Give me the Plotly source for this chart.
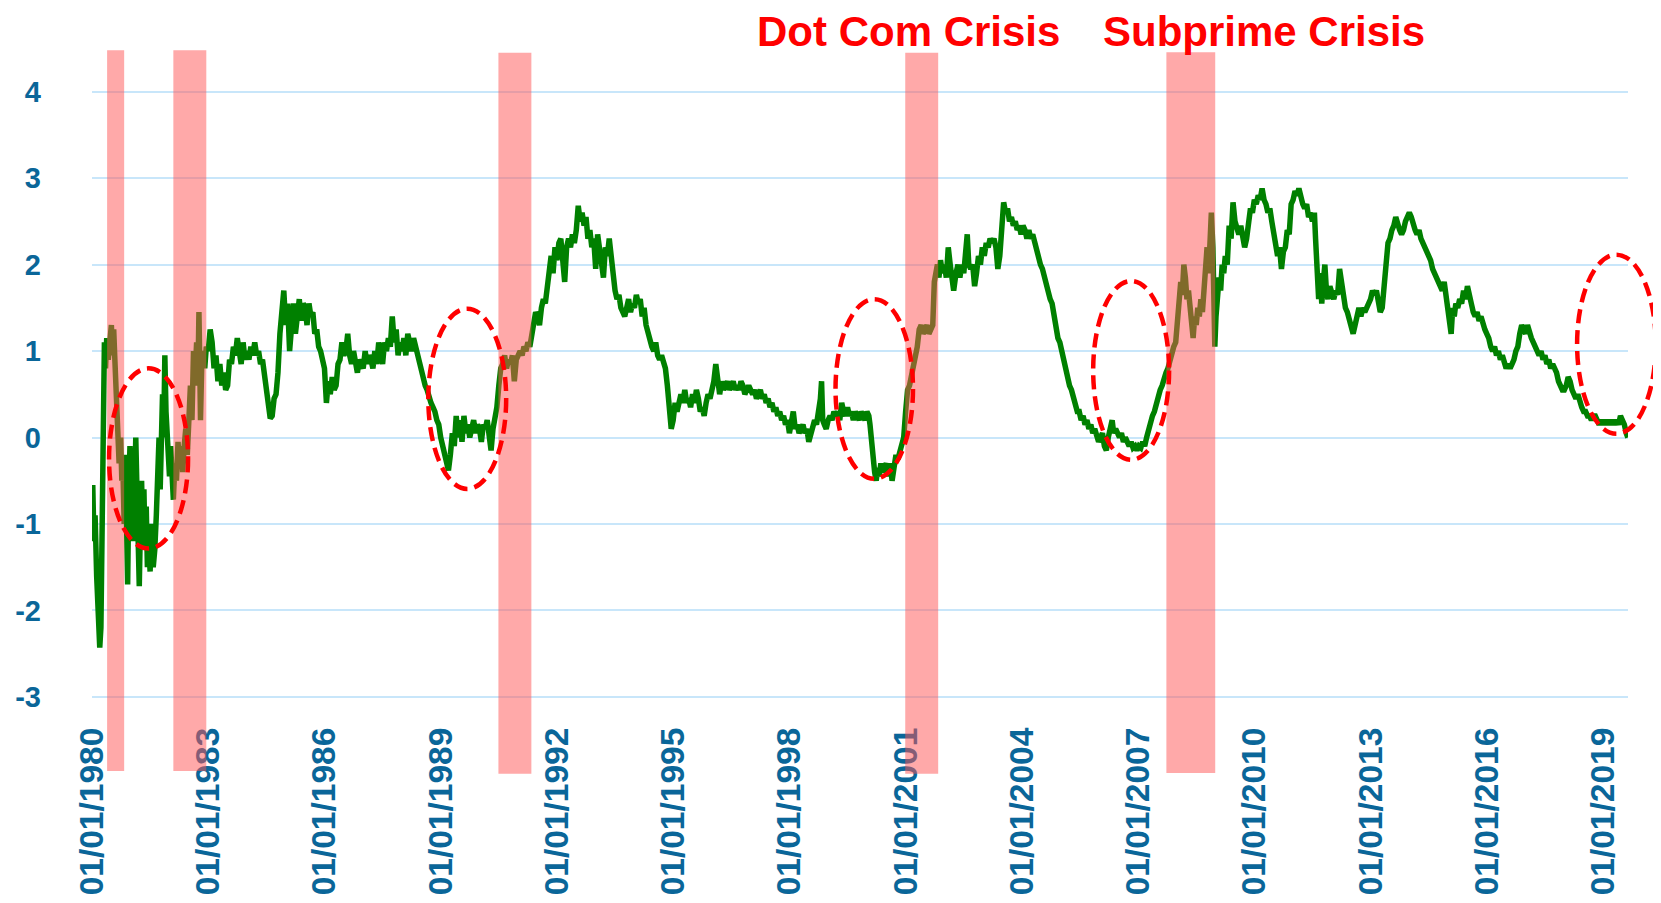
import pandas as pd
import plotly.graph_objects as go

# ---- data: 10y-2y spread, decimal years ----
years = [
1980.00,1980.02,1980.05,1980.08,1980.12,1980.16,1980.20,1980.23,1980.26,1980.29,1980.32,1980.35,1980.38,1980.42,1980.46,1980.50,1980.53,1980.56,1980.59,1980.62,
1980.66,1980.70,1980.74,1980.77,1980.80,1980.83,1980.86,1980.89,1980.92,1980.95,1980.98,1981.01,1981.04,1981.07,1981.10,1981.13,1981.16,1981.19,1981.22,1981.25,
1981.28,1981.31,1981.34,1981.37,1981.40,1981.43,1981.46,1981.50,1981.54,1981.58,1981.62,1981.66,1981.70,1981.73,1981.76,1981.79,1981.82,1981.85,1981.88,1981.91,
1981.94,1981.97,1982.00,1982.03,1982.06,1982.10,1982.14,1982.18,1982.22,1982.26,1982.30,1982.34,1982.38,1982.42,1982.46,1982.50,1982.54,1982.58,1982.62,1982.66,
1982.70,1982.73,1982.76,1982.78,1982.80,1982.83,1982.87,1982.91,1982.95,1983.00,1983.05,1983.10,1983.15,1983.20,1983.25,1983.30,1983.35,1983.40,1983.45,1983.50,
1983.55,1983.60,1983.65,1983.70,1983.75,1983.80,1983.85,1983.90,1983.95,1984.00,1984.05,1984.10,1984.15,1984.20,1984.25,1984.30,1984.35,1984.40,1984.45,1984.50,
1984.55,1984.60,1984.65,1984.70,1984.75,1984.80,1984.85,1984.90,1984.95,1985.00,1985.05,1985.10,1985.15,1985.20,1985.25,1985.30,1985.35,1985.40,1985.45,1985.50,
1985.55,1985.60,1985.65,1985.70,1985.75,1985.80,1985.85,1985.90,1985.95,1986.00,1986.05,1986.10,1986.15,1986.20,1986.25,1986.30,1986.35,1986.40,1986.45,1986.50,
1986.55,1986.60,1986.65,1986.70,1986.75,1986.80,1986.85,1986.90,1986.95,1987.00,1987.05,1987.10,1987.15,1987.20,1987.25,1987.30,1987.35,1987.40,1987.45,1987.50,
1987.55,1987.60,1987.65,1987.70,1987.75,1987.80,1987.85,1987.90,1987.95,1988.00,1988.05,1988.10,1988.15,1988.20,1988.25,1988.30,1988.35,1988.40,1988.45,1988.50,
1988.55,1988.60,1988.65,1988.70,1988.75,1988.80,1988.85,1988.90,1988.95,1989.00,1989.05,1989.10,1989.15,1989.20,1989.25,1989.30,1989.35,1989.40,1989.45,1989.50,
1989.55,1989.60,1989.65,1989.70,1989.75,1989.80,1989.85,1989.90,1989.95,1990.00,1990.05,1990.10,1990.15,1990.20,1990.25,1990.30,1990.35,1990.40,1990.45,1990.50,
1990.55,1990.60,1990.65,1990.70,1990.75,1990.80,1990.85,1990.90,1990.95,1991.00,1991.05,1991.10,1991.15,1991.20,1991.25,1991.30,1991.35,1991.40,1991.45,1991.50,
1991.55,1991.60,1991.65,1991.70,1991.75,1991.80,1991.85,1991.90,1991.95,1992.00,1992.05,1992.10,1992.15,1992.20,1992.25,1992.30,1992.35,1992.40,1992.45,1992.50,
1992.55,1992.60,1992.65,1992.70,1992.75,1992.80,1992.85,1992.90,1992.95,1993.00,1993.05,1993.10,1993.15,1993.20,1993.25,1993.30,1993.35,1993.40,1993.45,1993.50,
1993.55,1993.60,1993.65,1993.70,1993.75,1993.80,1993.85,1993.90,1993.95,1994.00,1994.05,1994.10,1994.15,1994.20,1994.25,1994.30,1994.35,1994.40,1994.45,1994.50,
1994.55,1994.60,1994.65,1994.70,1994.75,1994.80,1994.85,1994.90,1994.95,1995.00,1995.05,1995.10,1995.15,1995.20,1995.25,1995.30,1995.35,1995.40,1995.45,1995.50,
1995.55,1995.60,1995.65,1995.70,1995.75,1995.80,1995.85,1995.90,1995.95,1996.00,1996.05,1996.10,1996.15,1996.20,1996.25,1996.30,1996.35,1996.40,1996.45,1996.50,
1996.55,1996.60,1996.65,1996.70,1996.75,1996.80,1996.85,1996.90,1996.95,1997.00,1997.05,1997.10,1997.15,1997.20,1997.25,1997.30,1997.35,1997.40,1997.45,1997.50,
1997.55,1997.60,1997.65,1997.70,1997.75,1997.80,1997.85,1997.90,1997.95,1998.00,1998.05,1998.10,1998.15,1998.20,1998.25,1998.30,1998.35,1998.40,1998.45,1998.50,
1998.55,1998.60,1998.65,1998.70,1998.75,1998.80,1998.83,1998.86,1998.90,1998.95,1999.00,1999.05,1999.10,1999.15,1999.20,1999.25,1999.30,1999.35,1999.40,1999.45,
1999.50,1999.55,1999.60,1999.65,1999.70,1999.75,1999.80,1999.85,1999.90,1999.95,2000.00,2000.05,2000.08,2000.12,2000.16,2000.20,2000.24,2000.28,2000.32,2000.36,
2000.40,2000.45,2000.50,2000.55,2000.60,2000.65,2000.70,2000.75,2000.80,2000.85,2000.90,2000.95,2001.00,2001.05,2001.10,2001.15,2001.20,2001.25,2001.30,2001.35,
2001.40,2001.45,2001.50,2001.55,2001.60,2001.65,2001.70,2001.74,2001.78,2001.82,2001.86,2001.90,2001.95,2002.00,2002.05,2002.10,2002.15,2002.20,2002.24,2002.30,
2002.35,2002.40,2002.45,2002.50,2002.55,2002.59,2002.63,2002.68,2002.73,2002.78,2002.83,2002.88,2002.93,2002.98,2003.03,2003.08,2003.13,2003.18,2003.23,2003.28,
2003.33,2003.38,2003.43,2003.48,2003.53,2003.58,2003.63,2003.68,2003.73,2003.78,2003.83,2003.88,2003.93,2003.98,2004.03,2004.08,2004.13,2004.18,2004.23,2004.28,
2004.33,2004.38,2004.43,2004.48,2004.53,2004.58,2004.63,2004.68,2004.73,2004.78,2004.83,2004.88,2004.93,2004.98,2005.03,2005.08,2005.13,2005.18,2005.23,2005.28,
2005.33,2005.38,2005.43,2005.48,2005.53,2005.58,2005.63,2005.68,2005.73,2005.78,2005.83,2005.88,2005.93,2005.98,2006.03,2006.08,2006.13,2006.18,2006.23,2006.28,
2006.33,2006.37,2006.42,2006.47,2006.52,2006.57,2006.62,2006.67,2006.72,2006.77,2006.82,2006.87,2006.92,2006.97,2007.02,2007.07,2007.12,2007.17,2007.22,2007.27,
2007.32,2007.37,2007.42,2007.47,2007.52,2007.57,2007.62,2007.67,2007.72,2007.77,2007.82,2007.87,2007.92,2007.97,2008.02,2008.06,2008.10,2008.14,2008.18,2008.22,
2008.26,2008.30,2008.34,2008.38,2008.42,2008.46,2008.50,2008.54,2008.58,2008.62,2008.66,2008.70,2008.74,2008.78,2008.82,2008.86,2008.89,2008.93,2008.96,2008.98,
2009.01,2009.05,2009.09,2009.13,2009.17,2009.21,2009.25,2009.30,2009.35,2009.40,2009.45,2009.50,2009.55,2009.60,2009.65,2009.70,2009.75,2009.80,2009.85,2009.90,
2009.95,2010.00,2010.05,2010.10,2010.15,2010.20,2010.25,2010.30,2010.35,2010.40,2010.45,2010.50,2010.55,2010.60,2010.65,2010.70,2010.75,2010.80,2010.85,2010.90,
2010.95,2011.00,2011.05,2011.10,2011.15,2011.20,2011.25,2011.30,2011.35,2011.40,2011.45,2011.50,2011.55,2011.58,2011.62,2011.66,2011.70,2011.74,2011.78,2011.82,
2011.86,2011.90,2011.95,2012.00,2012.05,2012.10,2012.15,2012.20,2012.25,2012.30,2012.35,2012.40,2012.45,2012.50,2012.55,2012.60,2012.65,2012.70,2012.75,2012.80,
2012.85,2012.90,2012.95,2013.00,2013.05,2013.10,2013.15,2013.20,2013.25,2013.30,2013.35,2013.40,2013.45,2013.50,2013.55,2013.60,2013.65,2013.70,2013.75,2013.80,
2013.85,2013.90,2013.95,2014.00,2014.05,2014.10,2014.15,2014.20,2014.25,2014.30,2014.35,2014.40,2014.45,2014.50,2014.55,2014.60,2014.65,2014.70,2014.75,2014.80,
2014.85,2014.90,2014.95,2015.00,2015.05,2015.08,2015.12,2015.16,2015.20,2015.25,2015.30,2015.35,2015.40,2015.45,2015.50,2015.55,2015.60,2015.65,2015.70,2015.75,
2015.80,2015.85,2015.90,2015.95,2016.00,2016.05,2016.10,2016.15,2016.20,2016.25,2016.30,2016.35,2016.40,2016.45,2016.50,2016.55,2016.60,2016.65,2016.70,2016.75,
2016.80,2016.85,2016.90,2016.95,2017.00,2017.05,2017.10,2017.15,2017.20,2017.25,2017.30,2017.35,2017.40,2017.45,2017.50,2017.55,2017.60,2017.65,2017.70,2017.75,
2017.80,2017.85,2017.90,2017.95,2018.00,2018.05,2018.10,2018.15,2018.20,2018.25,2018.30,2018.35,2018.40,2018.45,2018.50,2018.55,2018.60,2018.65,2018.70,2018.75,
2018.80,2018.85,2018.90,2018.95,2019.00,2019.05,2019.10,2019.15,2019.20,2019.25,2019.30,2019.35,2019.40,2019.45,2019.50,2019.55,2019.60,2019.64,
]
spread = [
-1.15,-0.55,-1.2,-0.9,-1.6,-2.1,-2.43,-2.2,-0.8,0.3,1.1,0.8,1.15,0.9,1.2,1.3,0.95,1.25,0.9,0.5,
0.1,-0.3,0.0,-0.5,-0.4,-1.0,-0.2,-0.9,-1.7,-0.6,-0.1,-0.9,-0.3,-1.2,-0.4,0.0,-0.6,-1.3,-1.72,-1.0,
-0.5,-1.1,-0.6,-1.3,-0.8,-1.5,-1.2,-1.55,-1.0,-1.5,-1.3,-0.9,-0.3,0.0,-0.6,-0.1,0.5,0.0,0.95,0.3,
0.1,-0.2,-0.45,-0.1,-0.6,-0.72,-0.3,-0.5,-0.05,-0.35,-0.1,-0.4,-0.1,0.1,-0.2,0.3,0.6,0.2,1.0,0.7,
1.1,0.6,1.45,0.9,0.2,0.8,1.0,0.8,1.05,1.0,1.25,1.1,0.8,0.95,0.65,0.85,0.6,0.75,0.55,0.6,
0.9,0.85,1.05,0.95,1.15,1.0,0.85,1.1,0.9,1.0,0.9,1.05,0.95,1.1,0.95,1.0,0.85,0.9,0.7,0.5,
0.35,0.22,0.25,0.45,0.5,0.75,1.2,1.4,1.7,1.3,1.55,1.0,1.4,1.55,1.2,1.5,1.6,1.35,1.55,1.5,
1.3,1.55,1.4,1.45,1.2,1.25,1.05,1.0,0.85,0.8,0.4,0.65,0.5,0.7,0.55,0.6,0.85,0.9,1.1,0.95,
1.0,1.2,0.95,0.85,1.0,0.9,0.75,0.9,0.85,0.8,1.0,0.85,0.95,0.9,0.8,1.0,0.85,1.1,0.95,0.85,
1.1,1.0,1.15,1.05,1.4,1.1,1.25,0.95,1.1,1.0,1.15,0.95,1.2,1.1,1.0,1.15,1.05,0.95,0.9,0.75,
0.7,0.6,0.55,0.45,0.4,0.35,0.3,0.2,0.15,0.0,-0.1,-0.25,-0.3,-0.38,-0.2,0.05,-0.1,0.25,0.0,0.2,
-0.05,0.25,0.05,0.15,0.0,0.1,0.2,0.05,0.15,0.1,-0.05,0.15,0.1,0.2,0.0,-0.15,0.1,0.2,0.35,0.6,
0.8,0.85,0.95,0.8,0.9,0.85,0.95,0.65,0.9,0.95,1.0,0.95,1.05,1.0,1.1,1.05,1.2,1.35,1.45,1.4,
1.3,1.5,1.6,1.55,1.7,1.9,2.1,1.9,2.2,2.05,2.25,2.3,2.05,1.8,2.2,2.3,2.2,2.35,2.25,2.4,
2.68,2.5,2.6,2.45,2.55,2.3,2.4,2.2,2.3,1.95,2.35,2.2,2.1,1.85,2.2,2.1,2.3,2.05,1.85,1.7,
1.6,1.65,1.5,1.45,1.4,1.5,1.6,1.45,1.55,1.5,1.65,1.55,1.6,1.4,1.5,1.3,1.2,1.15,1.05,1.0,
1.1,0.95,0.9,0.95,0.85,0.8,0.6,0.3,0.1,0.2,0.4,0.3,0.45,0.5,0.4,0.55,0.4,0.45,0.35,0.5,
0.4,0.55,0.45,0.3,0.35,0.25,0.4,0.5,0.45,0.55,0.65,0.85,0.6,0.5,0.65,0.55,0.6,0.65,0.55,0.6,
0.65,0.55,0.6,0.55,0.65,0.6,0.5,0.55,0.6,0.55,0.5,0.55,0.45,0.5,0.55,0.45,0.5,0.4,0.45,0.35,
0.4,0.3,0.35,0.25,0.3,0.2,0.25,0.15,0.2,0.05,0.15,0.3,0.1,0.15,0.05,0.1,0.15,0.05,0.1,-0.05,
0.05,0.1,0.2,0.15,0.3,0.45,0.65,0.2,0.15,0.1,0.2,0.25,0.2,0.3,0.25,0.3,0.2,0.4,0.3,0.25,
0.35,0.25,0.3,0.2,0.3,0.25,0.2,0.3,0.25,0.2,0.3,0.25,0.15,-0.1,-0.3,-0.4,-0.5,-0.35,-0.45,-0.3,
-0.4,-0.35,-0.3,-0.45,-0.3,-0.5,-0.3,-0.2,-0.25,-0.15,-0.1,0.0,0.3,0.55,0.6,0.7,0.85,0.95,1.05,1.25,
1.3,1.2,1.25,1.3,1.2,1.25,1.3,1.8,1.9,2.0,1.85,2.05,1.9,2.0,1.85,2.2,2.0,1.8,1.7,1.9,
2.0,1.85,2.0,1.9,2.1,2.35,2.0,1.95,2.0,1.75,1.9,2.1,2.0,2.2,2.1,2.25,2.2,2.3,2.25,2.3,
2.2,1.95,2.1,2.4,2.72,2.6,2.65,2.5,2.55,2.45,2.5,2.4,2.45,2.35,2.45,2.4,2.3,2.4,2.3,2.35,
2.25,2.2,2.1,2.0,1.95,1.85,1.8,1.7,1.6,1.55,1.4,1.3,1.15,1.1,1.0,0.85,0.8,0.7,0.6,0.55,
0.45,0.4,0.3,0.3,0.2,0.25,0.15,0.2,0.1,0.15,0.05,0.1,0.0,-0.05,0.0,0.05,-0.1,-0.15,0.0,0.1,
0.2,0.05,0.1,0.05,0.0,0.05,-0.05,0.0,-0.05,-0.1,-0.05,-0.12,-0.1,-0.15,-0.1,-0.12,-0.05,-0.1,0.0,0.1,
0.15,0.25,0.3,0.4,0.45,0.55,0.6,0.7,0.75,0.8,0.9,0.95,1.05,1.1,1.4,1.6,1.8,1.65,2.0,1.85,
1.6,1.7,1.45,1.3,1.15,1.4,1.3,1.5,1.4,1.6,1.45,1.7,2.0,2.2,1.9,2.4,2.6,2.2,1.5,1.05,
1.4,1.65,1.85,1.7,2.0,1.9,2.1,2.0,2.45,2.3,2.72,2.5,2.4,2.35,2.45,2.3,2.2,2.3,2.5,2.65,
2.6,2.75,2.7,2.8,2.75,2.88,2.75,2.7,2.6,2.65,2.5,2.35,2.25,2.1,2.2,1.95,2.15,2.2,2.4,2.35,
2.7,2.75,2.85,2.8,2.88,2.75,2.7,2.65,2.7,2.55,2.6,2.5,2.6,2.3,1.8,1.6,1.9,1.55,1.8,2.0,
1.7,1.6,1.75,1.65,1.6,1.7,1.65,1.95,1.8,1.6,1.5,1.45,1.35,1.3,1.2,1.3,1.45,1.5,1.4,1.5,
1.45,1.5,1.55,1.6,1.7,1.65,1.7,1.6,1.45,1.5,1.7,2.0,2.25,2.3,2.4,2.45,2.55,2.45,2.4,2.35,
2.4,2.5,2.55,2.6,2.55,2.45,2.4,2.35,2.4,2.3,2.25,2.2,2.15,2.1,2.05,1.95,1.9,1.85,1.8,1.75,
1.7,1.8,1.6,1.45,1.3,1.2,1.5,1.4,1.55,1.5,1.6,1.55,1.7,1.6,1.75,1.6,1.55,1.45,1.4,1.45,
1.35,1.4,1.3,1.25,1.2,1.15,1.05,1.0,1.05,0.95,1.0,0.9,0.95,0.85,0.8,0.85,0.8,0.85,0.9,1.0,
1.05,1.2,1.3,1.25,1.2,1.3,1.2,1.15,1.1,1.05,1.0,0.95,1.0,0.9,0.95,0.85,0.9,0.8,0.85,0.8,
0.75,0.65,0.6,0.55,0.55,0.6,0.7,0.65,0.55,0.5,0.45,0.5,0.4,0.35,0.3,0.3,0.25,0.25,0.2,0.25,
0.25,0.2,0.15,0.2,0.15,0.2,0.15,0.2,0.15,0.2,0.15,0.2,0.15,0.25,0.2,0.15,0.05,0.0,
]

# recession periods (decimal years)
recession_start = [1980.39, 1982.10, 1990.49, 2000.99, 2007.73]
recession_end = [1980.83, 1982.95, 1991.34, 2001.84, 2008.99]

# highlighted ellipses: (x0, x1, y0, y1) in decimal years / spread
ellipses = [
    (1980.44, 1982.48, -1.285, 0.80),
    (1988.68, 1990.69, -0.595, 1.49),
    (1999.19, 2001.19, -0.478, 1.60),
    (2005.84, 2007.80, -0.258, 1.81),
    (2018.33, 2020.36, 0.043, 2.115),
]

crisis_labels = ["Dot Com Crisis", "Subprime Crisis"]
tick_years = list(range(1980, 2020, 3))
y_ticks = [-3, -2, -1, 0, 1, 2, 3, 4]

T0 = pd.Timestamp("1980-01-01")
T1 = pd.Timestamp("2019-08-24")


def to_date(y):
    return T0 + pd.Timedelta(days=(y - 1980.0) * 365.25)


def to_paper(y):
    return (to_date(y) - T0) / (T1 - T0)


dates = [to_date(y) for y in years]

BLUE = "#0A6699"
FONT = "Liberation Sans, Arial, sans-serif"

fig = go.Figure()
fig.add_trace(go.Scatter(x=dates, y=spread, mode="lines",
                         line=dict(color="#008000", width=5.5),
                         hoverinfo="skip"))

tops = [0.985, 0.985, 0.981, 0.981, 0.982]
bots = [-0.083, -0.083, -0.087, -0.087, -0.086]
for s, e, t, b in zip(recession_start, recession_end, tops, bots):
    fig.add_shape(type="rect", xref="x", yref="paper",
                  x0=to_date(s), x1=to_date(e), y0=b, y1=t,
                  fillcolor="rgba(255,84,84,0.5)", line_width=0, layer="above")

for (x0, x1, y0, y1) in ellipses:
    fig.add_shape(type="circle", xref="paper", yref="y",
                  x0=to_paper(x0), x1=to_paper(x1), y0=y0, y1=y1,
                  line=dict(color="#FF0000", width=4.5, dash="14px,7px"),
                  fillcolor="rgba(0,0,0,0)", layer="above")

label_x = [0.5317, 0.7627]
for txt, lx in zip(crisis_labels, label_x):
    fig.add_annotation(text=txt, xref="paper", yref="paper", x=lx, y=1.0133,
                       xanchor="center", yanchor="middle", showarrow=False,
                       font=dict(family=FONT, size=42, color="#FF0000", weight="bold"))

# page body has an 8px default margin, so the figure is 8px smaller and margins shifted
fig.update_layout(
    width=1653, height=895,
    margin=dict(l=84, r=33, t=32, b=188, autoexpand=False),
    showlegend=False,
    plot_bgcolor="white", paper_bgcolor="white",
    xaxis=dict(type="date", range=[T0, T1], automargin=False,
               tickvals=[pd.Timestamp(f"{y}-01-01") for y in tick_years],
               ticktext=[f"01/01/{y}" for y in tick_years],
               tickangle=-90, ticks="", showgrid=False, zeroline=False, showline=False,
               tickfont=dict(family=FONT, size=33.5, color=BLUE, weight="bold"),
               ticklabelstandoff=5, ticklabelshift=0),
    yaxis=dict(range=[-3.21, 4.598], tickvals=y_ticks, ticktext=[str(v) for v in y_ticks],
               automargin=False,
               ticks="", showgrid=True, gridcolor="#C8E6FA", gridwidth=2,
               zeroline=False, showline=False,
               tickfont=dict(family=FONT, size=29, color=BLUE, weight="bold"),
               ticklabelstandoff=50),
)

fig.write_html("out.html")
